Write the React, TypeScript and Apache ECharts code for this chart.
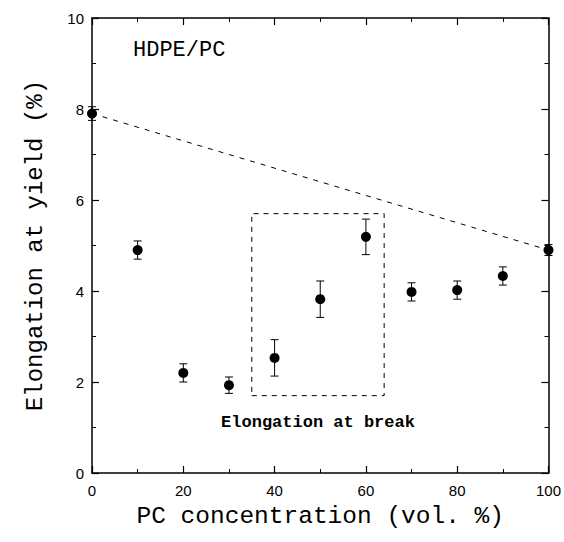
import React, { useEffect, useRef } from "react";
import * as echarts from "echarts";

const pcConc = [0, 10, 20, 30, 40, 50, 60, 70, 80, 90, 100];
const elongYield = [7.9, 4.9, 2.2, 1.93, 2.53, 3.82, 5.19, 3.98, 4.02, 4.33, 4.9];
const errYield = [0.15, 0.2, 0.2, 0.18, 0.4, 0.4, 0.39, 0.2, 0.2, 0.2, 0.12];
const tieLineX = [0, 100];
const tieLineY = [7.9, 4.9];
const boxX = [35, 64];
const boxY = [1.7, 5.7];
const xTicks = [0, 20, 40, 60, 80, 100];
const yTicks = [0, 2, 4, 6, 8, 10];

const MONO = "'Liberation Mono', 'DejaVu Sans Mono', monospace";
const SANS = "'Liberation Sans', Arial, sans-serif";

export default function App() {
  const ref = useRef<HTMLDivElement>(null);
  useEffect(() => {
    if (!ref.current) return;
    const chart = echarts.init(ref.current, null, { renderer: "svg" });
    const axisBase = {
      min: 0,
      axisLine: { show: true, onZero: false, lineStyle: { color: "#000", width: 1.5 } },
      axisTick: { show: true, inside: true, length: 7, lineStyle: { color: "#000", width: 1.2 } },
      minorTick: { show: true, splitNumber: 2, length: 4, lineStyle: { color: "#000", width: 1 } },
      splitLine: { show: false },
      minorSplitLine: { show: false },
    };
    const errData = pcConc.map((x, i) => [x, elongYield[i], elongYield[i] - errYield[i], elongYield[i] + errYield[i]]);
    const boxData = [
      [boxX[0], boxY[0]],
      [boxX[1], boxY[0]],
      [boxX[1], boxY[1]],
      [boxX[0], boxY[1]],
      [boxX[0], boxY[0]],
    ];
    chart.setOption({
      animation: false,
      backgroundColor: "#fff",
      grid: { left: 92, right: 15, top: 18, bottom: 69, containLabel: false },
      xAxis: [
        {
          ...axisBase,
          type: "value",
          position: "bottom",
          max: 100,
          interval: 20,
          axisLabel: {
            show: true,
            color: "#000",
            fontFamily: SANS,
            fontSize: 15,
            margin: 10,
            formatter: (v: number) => (xTicks.includes(v) ? String(v) : ""),
          },
          name: "PC concentration (vol. %)",
          nameLocation: "middle",
          nameGap: 31,
          nameTextStyle: { color: "#000", fontFamily: MONO, fontSize: 24.5 },
        },
        {
          ...axisBase,
          type: "value",
          position: "top",
          max: 100,
          interval: 20,
          axisLabel: { show: false },
        },
      ],
      yAxis: [
        {
          ...axisBase,
          type: "value",
          position: "left",
          max: 10,
          interval: 2,
          axisLabel: {
            show: true,
            color: "#000",
            fontFamily: SANS,
            fontSize: 15,
            margin: 8,
            formatter: (v: number) => (yTicks.includes(v) ? String(v) : ""),
          },
          name: "Elongation at yield (%)",
          nameLocation: "middle",
          nameGap: 45,
          nameTextStyle: { color: "#000", fontFamily: MONO, fontSize: 24 },
        },
        {
          ...axisBase,
          type: "value",
          position: "right",
          max: 10,
          interval: 2,
          axisLabel: { show: false },
        },
      ],
      series: [
        {
          type: "line",
          data: tieLineX.map((x, i) => [x, tieLineY[i]]),
          symbol: "none",
          lineStyle: { color: "#000", width: 1, type: [5, 6] },
          z: 2,
        },
        {
          type: "line",
          data: boxData,
          symbol: "none",
          lineStyle: { color: "#000", width: 1, type: [5, 5] },
          z: 2,
        },
        {
          type: "custom",
          data: errData,
          renderItem: (params: any, api: any) => {
            const x = api.value(0);
            const lo = api.coord([x, api.value(2)]);
            const hi = api.coord([x, api.value(3)]);
            const w = 4;
            const st = { stroke: "#000", lineWidth: 1 };
            return {
              type: "group",
              children: [
                { type: "line", shape: { x1: lo[0], y1: lo[1], x2: hi[0], y2: hi[1] }, style: st },
                { type: "line", shape: { x1: lo[0] - w, y1: lo[1], x2: lo[0] + w, y2: lo[1] }, style: st },
                { type: "line", shape: { x1: hi[0] - w, y1: hi[1], x2: hi[0] + w, y2: hi[1] }, style: st },
              ],
            };
          },
          z: 3,
        },
        {
          type: "scatter",
          data: pcConc.map((x, i) => [x, elongYield[i]]),
          symbol: "circle",
          symbolSize: 10,
          itemStyle: { color: "#000", opacity: 1 },
          z: 4,
        },
      ],
      graphic: [
        {
          type: "text",
          x: 133,
          y: 50,
          style: {
            text: "HDPE/PC",
            fill: "#000",
            font: `22px ${MONO}`,
            textAlign: "left",
            textVerticalAlign: "middle",
          },
        },
        {
          type: "text",
          x: 318,
          y: 422,
          style: {
            text: "Elongation at break",
            fill: "#000",
            font: `bold 17px ${MONO}`,
            textAlign: "center",
            textVerticalAlign: "middle",
          },
        },
      ],
    });
    return () => chart.dispose();
  }, []);
  return <div ref={ref} style={{ width: 564, height: 542, position: "absolute", left: 0, top: 0 }} />;
}
